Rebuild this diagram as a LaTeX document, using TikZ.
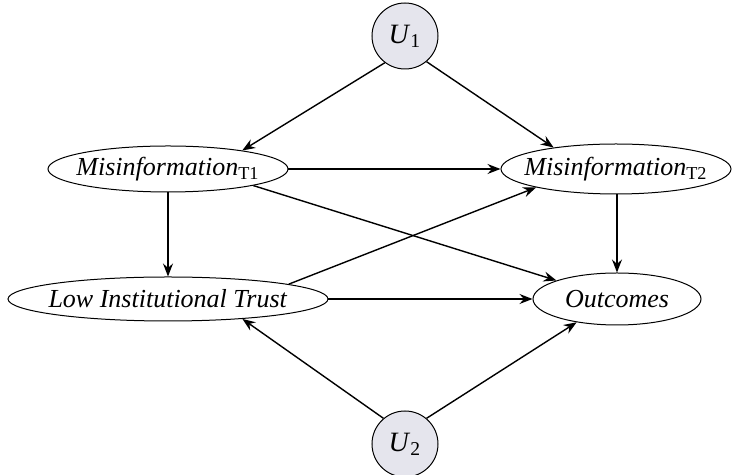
\documentclass[tikz,border=0pt]{standalone}
\usepackage{fontspec}
\setmainfont{Liberation Serif}
\usetikzlibrary{arrows.meta,shapes.geometric}
\definecolor{ufill}{RGB}{229,229,237}
\tikzset{
  var/.style={ellipse,draw,line width=0.5pt,inner xsep=-40pt,inner ysep=-10pt,font=\fontsize{13}{15}\selectfont},
  latent/.style={circle,draw,line width=0.5pt,fill=ufill,inner sep=0pt,minimum size=33pt,font=\fontsize{14}{16}\selectfont},
  edge/.style={line width=0.7pt,-{Stealth[length=6.5pt,width=5pt,inset=2.2pt]}}
}
\begin{document}
\begin{tikzpicture}[x=0.5pt,y=-0.5pt]
\useasboundingbox (0,0) rectangle (736,475);
\node[latent] (U1) at (405,36) {\textit{U}\textsubscript{1}};
\node[latent] (U2) at (405,444) {\textit{U}\textsubscript{2}};
\node[var,minimum width=120pt,minimum height=23pt] (M1) at (168,169) {\textit{Misinformation}\textsubscript{T1}};
\node[var,minimum width=115pt,minimum height=25pt] (M2) at (616,169) {\textit{Misinformation}\textsubscript{T2}};
\node[var,minimum width=160pt,minimum height=22pt] (L) at (168,299) {\textit{Low Institutional Trust}};
\node[var,minimum width=84pt,minimum height=26pt] (O) at (617,299) {\textit{Outcomes}};
\draw[edge] (U1.233) -- (M1.14);
\draw[edge] (U1.310) -- (M2.161);
\draw[edge] (M1.east) -- (M2.west);
\draw[edge] (M1.south) -- (L.north);
\draw[edge] (M1.349) -- (O.163);
\draw[edge] (L.7) -- (M2.193);
\draw[edge] (L.east) -- (O.west);
\draw[edge] (M2.south -| O.north) -- (O.north);
\draw[edge] (U2.130) -- (L.345);
\draw[edge] (U2.50) -- (O.210);
\end{tikzpicture}
\end{document}
